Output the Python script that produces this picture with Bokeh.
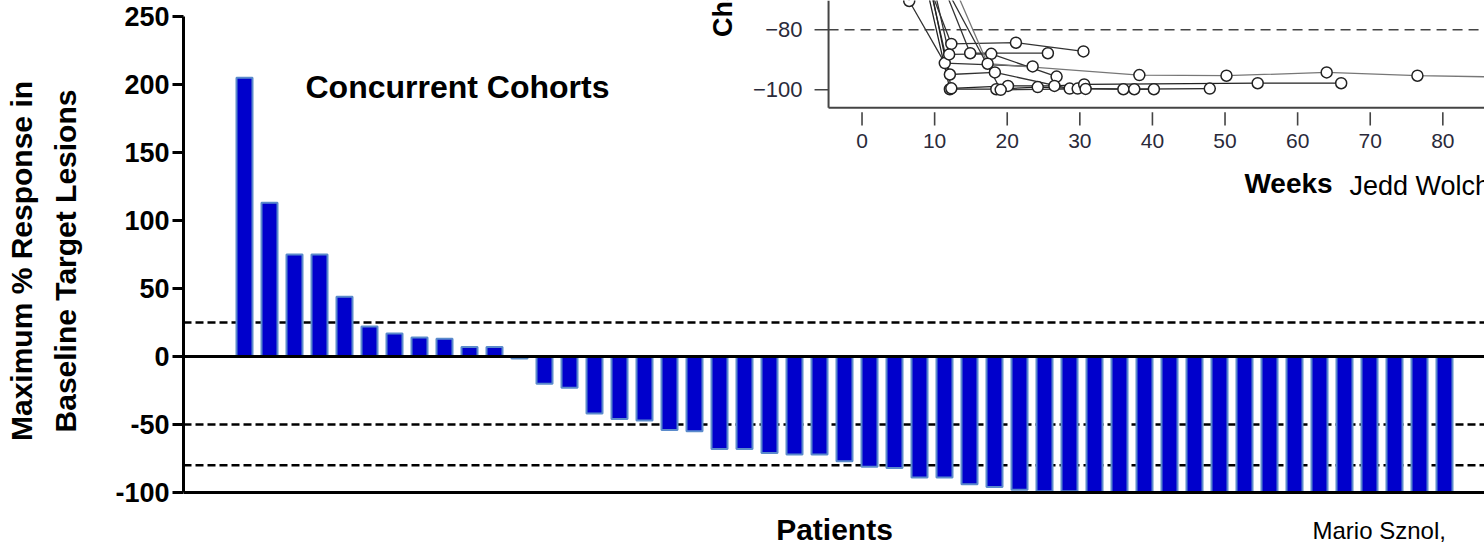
from bokeh.plotting import figure
from bokeh.models import Range1d, LinearAxis, FixedTicker, Span, Label, ColumnDataSource
from bokeh.embed import file_html
from bokeh.resources import INLINE
from math import pi

# ---------------- main waterfall data ----------------
patients = list(range(1, 50))
max_response = [205, 113, 75, 75, 44, 22, 17, 14, 13, 7,
                7, -1.5, -20, -23, -42, -46, -47, -54, -55, -68,
                -68, -71, -72, -72, -77, -81, -82, -89, -89, -94,
                -96, -98, -99, -99, -99.8, -99.8, -99.8, -100, -100, -100,
                -100, -100, -100, -100, -100, -100, -100, -100, -100]
y_ticks = [-100, -50, 0, 50, 100, 150, 200, 250]
y_tick_labels = {-100: "-100", -50: "-50"}
threshold_lines = [25, -50, -80]
y_axis_bottom = -100

# ---------------- inset (spider plot) data ----------------
inset_x_ticks = [0, 10, 20, 30, 40, 50, 60, 70, 80]
inset_y_ticks = [-80, -100]
inset_threshold = -80
p1_wk = [0, 6, 12.3, 21.2, 30.5];                 p1_chg = [0, -45, -84.7, -84.3, -87.2]
p2_wk = [0, 6.5, 11.4, 23.5];                     p2_chg = [0, -70.4, -91.1, -92.2]
p3_wk = [0, 7, 14.9, 25.6];                       p3_chg = [0, -40, -87.8, -87.8]
p4_wk = [0, 7, 12.0, 17.8, 26.8];                 p4_chg = [0, -35, -88.2, -88.0, -95.6]
p5_wk = [0, 6, 12.1, 18.3, 28.6, 36.0, 40.2];     p5_chg = [0, -30, -94.9, -94.2, -99.6, -99.8, -99.8]
p6_wk = [0, 6, 12.1, 18.5, 24.2, 29.7, 37.5, 47.9]; p6_chg = [0, -35, -99.8, -99.8, -99.1, -99.6, -99.8, -99.6]
p7_wk = [0, 6, 12.3, 20.1, 26.5, 30.6, 54.5, 66.0]; p7_chg = [0, -25, -99.5, -98.7, -98.7, -98.2, -97.8, -97.8]
p8_wk = [0, 9, 17.3, 38.2, 50.2, 64.0, 76.5, 95.0]; p8_chg = [0, -45, -91.3, -95.1, -95.3, -94.2, -95.3, -96.0]
p9_wk = [0, 8, 19.1, 30.8];                       p9_chg = [0, -50, -100.0, -99.7]
inset_series = [(p1_wk, p1_chg, "#333333"), (p2_wk, p2_chg, "#333333"), (p3_wk, p3_chg, "#333333"),
                (p4_wk, p4_chg, "#333333"), (p5_wk, p5_chg, "#333333"), (p6_wk, p6_chg, "#222222"),
                (p7_wk, p7_chg, "#222222"), (p8_wk, p8_chg, "#777777"), (p9_wk, p9_chg, "#333333")]

BAR_FILL = "#0000CC"
BAR_LINE = "#5B8BCB"
FONT = "Liberation Sans"
NB = "\u00a0\u00a0\u00a0"  # non-breaking pad that nudges the centred axis title upward

p = figure(width=1484, height=546, output_backend="svg", toolbar_location=None,
           x_range=Range1d(-1.44, 50.6), y_range=Range1d(-139.7, 261.76),
           min_border_left=183, min_border_right=0, min_border_top=0, min_border_bottom=0,
           x_axis_location=None, y_axis_location=None)
p.outline_line_color = None
p.xgrid.visible = False
p.ygrid.visible = False
p.background_fill_color = "white"
p.border_fill_color = "white"

# inset coordinate system sharing the same frame
p.extra_x_ranges = {"wk": Range1d(-93.46, 85.74)}
p.extra_y_ranges = {"chg": Range1d(-252.23, -70.23)}

# ---------- y axis of main chart ----------
yaxis = LinearAxis(ticker=FixedTicker(ticks=y_ticks), bounds=(-100, 250),
                   axis_label=NB + "Maximum % Response in\n" + NB + "Baseline Target Lesions")
yaxis.axis_line_width = 3
yaxis.axis_line_color = "black"
yaxis.major_tick_line_width = 3
yaxis.major_tick_out = 11
yaxis.major_tick_in = 0
yaxis.minor_tick_line_color = None
yaxis.major_label_standoff = 3
yaxis.major_label_overrides = y_tick_labels
yaxis.major_label_text_font = FONT
yaxis.major_label_text_font_style = "bold"
yaxis.major_label_text_font_size = "27px"
yaxis.major_label_text_color = "black"
yaxis.axis_label_text_font = FONT
yaxis.axis_label_text_font_style = "bold"
yaxis.axis_label_text_font_size = "30px"
yaxis.axis_label_text_color = "black"
yaxis.axis_label_text_line_height = 1.35
yaxis.axis_label_standoff = 30
p.add_layout(yaxis, "left")

for t in threshold_lines:
    p.add_layout(Span(location=t, dimension="width", line_color="black", line_width=2.5,
                      line_dash="8 4", level="underlay"))

src = ColumnDataSource(dict(x=patients, top=max_response))
p.vbar(x="x", top="top", bottom=0, width=0.64, source=src,
       fill_color=BAR_FILL, line_color=BAR_LINE, line_width=2)
p.add_layout(Span(location=0, dimension="width", line_color="black", line_width=3))
p.add_layout(Span(location=y_axis_bottom, dimension="width", line_color="black", line_width=3))

# ---------- main texts ----------
p.add_layout(Label(x=3.44, y=197.8, text="Concurrent Cohorts", text_font=FONT, text_font_style="bold",
                   text_font_size="32px", text_baseline="middle", text_align="left", text_color="black"))
p.add_layout(Label(x=24.6, y=-127.5, text="Patients", text_font=FONT, text_font_style="bold",
                   text_font_size="30px", text_align="center", text_baseline="middle", text_color="black"))
p.add_layout(Label(x=43.72, y=-128.0, text="Mario Sznol,", text_font=FONT,
                   text_font_size="24px", text_align="left", text_baseline="middle", text_color="black"))

# ---------- inset ----------
XR, YR = "wk", "chg"
frame_left_wk = -4.61
frame_bottom = -106.0
p.segment(x0=[frame_left_wk, frame_left_wk], y0=[-70.23, frame_bottom],
          x1=[frame_left_wk, 90], y1=[frame_bottom, frame_bottom],
          x_range_name=XR, y_range_name=YR, line_color="#444444", line_width=2)
p.segment(x0=[frame_left_wk], y0=[inset_threshold], x1=[90], y1=[inset_threshold],
          x_range_name=XR, y_range_name=YR, line_color="#444444", line_width=1.6, line_dash="10 6")
# y ticks & labels
p.segment(x0=[-6.54] * len(inset_y_ticks), y0=inset_y_ticks,
          x1=[frame_left_wk] * len(inset_y_ticks), y1=inset_y_ticks,
          x_range_name=XR, y_range_name=YR, line_color="#444444", line_width=1.6)
for v in inset_y_ticks:
    p.add_layout(Label(x=-8.2, y=v, x_range_name=XR, y_range_name=YR, text="\u2212" + str(abs(v)),
                       text_font=FONT, text_font_size="22px", text_align="right",
                       text_baseline="middle", text_color="#2a2a3a"))
# x ticks & labels
p.segment(x0=inset_x_ticks, y0=[-107.5] * len(inset_x_ticks),
          x1=inset_x_ticks, y1=[-111.9] * len(inset_x_ticks),
          x_range_name=XR, y_range_name=YR, line_color="#444444", line_width=1.6)
for v in inset_x_ticks:
    p.add_layout(Label(x=v, y=-117.0, x_range_name=XR, y_range_name=YR, text=str(v),
                       text_font=FONT, text_font_size="21px", text_align="center",
                       text_baseline="middle", text_color="#2a2a3a"))
p.add_layout(Label(x=-19.2, y=-82.4, x_range_name=XR, y_range_name=YR, angle=pi / 2,
                   text="Change from baseline (%)", text_font=FONT, text_font_style="bold",
                   text_font_size="27px", text_align="left", text_baseline="middle", text_color="black"))
p.add_layout(Label(x=58.75, y=-131.2, x_range_name=XR, y_range_name=YR, text="Weeks",
                   text_font=FONT, text_font_style="bold", text_font_size="28px",
                   text_align="center", text_baseline="middle", text_color="black"))
p.add_layout(Label(x=67.15, y=-131.9, x_range_name=XR, y_range_name=YR, text="Jedd Wolchok",
                   text_font=FONT, text_font_size="27px", text_align="left",
                   text_baseline="middle", text_color="black"))

for wk, chg, col in inset_series:
    p.line(wk, chg, x_range_name=XR, y_range_name=YR, line_color=col, line_width=1.3)
for wk, chg, col in inset_series:
    p.scatter(wk, chg, x_range_name=XR, y_range_name=YR, marker="circle", size=11,
              fill_color="white", line_color="#222222", line_width=1.5)

open("out.html", "w").write(file_html(p, INLINE))
